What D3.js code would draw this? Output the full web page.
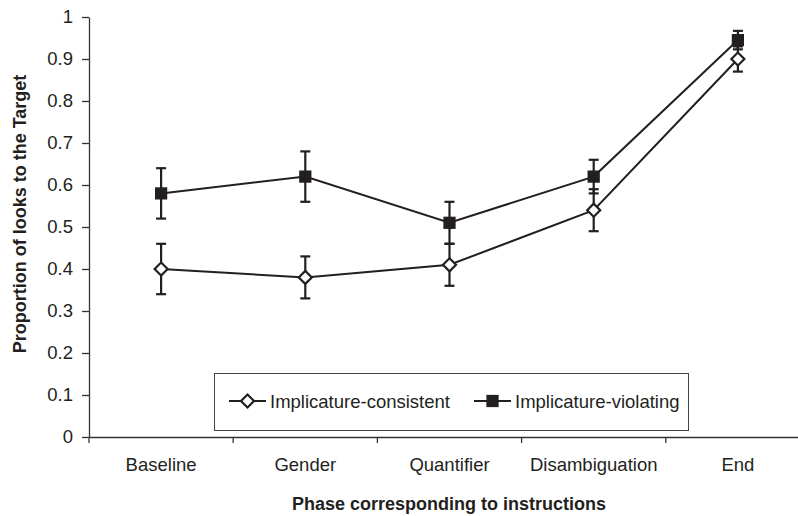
<!DOCTYPE html>
<html>
<head>
<meta charset="utf-8">
<script src="https://cdn.jsdelivr.net/npm/d3@7"></script>
<style>
  body { margin: 0; background: #fff; }
  svg text { font-family: "Liberation Sans", Arial, sans-serif; fill: #231f20; }
</style>
</head>
<body>
<div id="chart"></div>
<script>
// data
const categories = ['Baseline', 'Gender', 'Quantifier', 'Disambiguation', 'End'];
const consistentMeans = [0.40, 0.38, 0.41, 0.54, 0.90];
const consistentErr = [0.06, 0.05, 0.05, 0.05, 0.03];
const violatingMeans = [0.58, 0.62, 0.51, 0.62, 0.945];
const violatingErr = [0.06, 0.06, 0.05, 0.04, 0.022];
const yTickValues = [0, 0.1, 0.2, 0.3, 0.4, 0.5, 0.6, 0.7, 0.8, 0.9, 1];
const yTickLabels = ['0', '0.1', '0.2', '0.3', '0.4', '0.5', '0.6', '0.7', '0.8', '0.9', '1'];
const seriesNames = ['Implicature-consistent', 'Implicature-violating'];

const svgWidth = 798;
const svgHeight = 516;
const ink = '#231f20';
const fontSize = '18.5px';

const svg = d3.select('#chart').append('svg')
  .attr('width', svgWidth)
  .attr('height', svgHeight);

// scales
const xScale = d3.scaleBand().domain(categories).range([89, 810]).padding(0);
const yScale = d3.scaleLinear().domain([0, 1]).range([437, 17]);
const cx = c => xScale(c) + xScale.bandwidth() / 2;

// y axis
const yAxis = svg.append('g')
  .attr('transform', 'translate(89,0)')
  .call(d3.axisLeft(yScale)
    .tickValues(yTickValues)
    .tickFormat((d, i) => yTickLabels[i])
    .tickSize(7)
    .tickSizeOuter(0)
    .tickPadding(9));
yAxis.selectAll('text').attr('font-size', fontSize).attr('font-family', null);
yAxis.selectAll('line, path').attr('stroke', '#333').attr('stroke-width', 1.3);

// x axis (labels centred in bands, ticks on band edges)
const xAxis = svg.append('g')
  .attr('transform', 'translate(0,437)')
  .call(d3.axisBottom(xScale).tickSize(0).tickSizeOuter(0).tickPadding(21));
xAxis.selectAll('text').attr('font-size', fontSize).attr('font-family', null);
xAxis.select('path').attr('stroke', '#333').attr('stroke-width', 1.3);

svg.append('g').selectAll('line')
  .data(categories)
  .enter().append('line')
  .attr('x1', d => xScale(d))
  .attr('x2', d => xScale(d))
  .attr('y1', 437)
  .attr('y2', 443)
  .attr('stroke', '#333')
  .attr('stroke-width', 1.3);

// axis titles
svg.append('text')
  .attr('transform', 'translate(26,214) rotate(-90)')
  .attr('text-anchor', 'middle')
  .attr('font-size', '18px')
  .attr('font-weight', 'bold')
  .text('Proportion of looks to the Target');

svg.append('text')
  .attr('x', 449)
  .attr('y', 510)
  .attr('text-anchor', 'middle')
  .attr('font-size', '18px')
  .attr('font-weight', 'bold')
  .text('Phase corresponding to instructions');

// series
const series = [
  { name: seriesNames[0], means: consistentMeans, errs: consistentErr, marker: 'diamond' },
  { name: seriesNames[1], means: violatingMeans, errs: violatingErr, marker: 'square' }
];

const line = d3.line()
  .x((d, i) => cx(categories[i]))
  .y(d => yScale(d));

const diamond = d3.symbol().type(d3.symbolSquare).size(85);
const square = d3.symbol().type(d3.symbolSquare).size(150);

function drawMarker(g, type, x, y) {
  if (type === 'diamond') {
    g.append('path')
      .attr('d', diamond())
      .attr('transform', `translate(${x},${y}) rotate(45)`)
      .attr('fill', '#fff')
      .attr('stroke', ink)
      .attr('stroke-width', 2.2);
  } else {
    g.append('path')
      .attr('d', square())
      .attr('transform', `translate(${x},${y})`)
      .attr('fill', ink)
      .attr('stroke', 'none');
  }
}

series.forEach(s => {
  svg.append('path')
    .attr('d', line(s.means))
    .attr('fill', 'none')
    .attr('stroke', ink)
    .attr('stroke-width', 2);
});

series.forEach(s => {
  const g = svg.append('g');
  s.means.forEach((m, i) => {
    const x = cx(categories[i]);
    const top = yScale(m + s.errs[i]);
    const bot = yScale(m - s.errs[i]);
    g.append('line').attr('x1', x).attr('x2', x).attr('y1', top).attr('y2', bot)
      .attr('stroke', ink).attr('stroke-width', 2.2);
    [top, bot].forEach(yy => {
      g.append('line').attr('x1', x - 5).attr('x2', x + 5).attr('y1', yy).attr('y2', yy)
        .attr('stroke', ink).attr('stroke-width', 2.2);
    });
  });
});

series.forEach(s => {
  const g = svg.append('g');
  s.means.forEach((m, i) => drawMarker(g, s.marker, cx(categories[i]), yScale(m)));
});

// legend
const legend = svg.append('g');
legend.append('rect')
  .attr('x', 214.5).attr('y', 373.5)
  .attr('width', 474).attr('height', 57)
  .attr('fill', '#fff')
  .attr('stroke', '#444')
  .attr('stroke-width', 1);

const legendItems = [
  { x: 229, marker: 'diamond', name: seriesNames[0] },
  { x: 474, marker: 'square', name: seriesNames[1] }
];
legendItems.forEach(item => {
  legend.append('line')
    .attr('x1', item.x).attr('x2', item.x + 37)
    .attr('y1', 401).attr('y2', 401)
    .attr('stroke', ink).attr('stroke-width', 2);
  drawMarker(legend, item.marker, item.x + 18.5, 401);
  legend.append('text')
    .attr('x', item.x + 41)
    .attr('y', 407.5)
    .attr('font-size', fontSize)
    .text(item.name);
});
</script>
</body>
</html>
